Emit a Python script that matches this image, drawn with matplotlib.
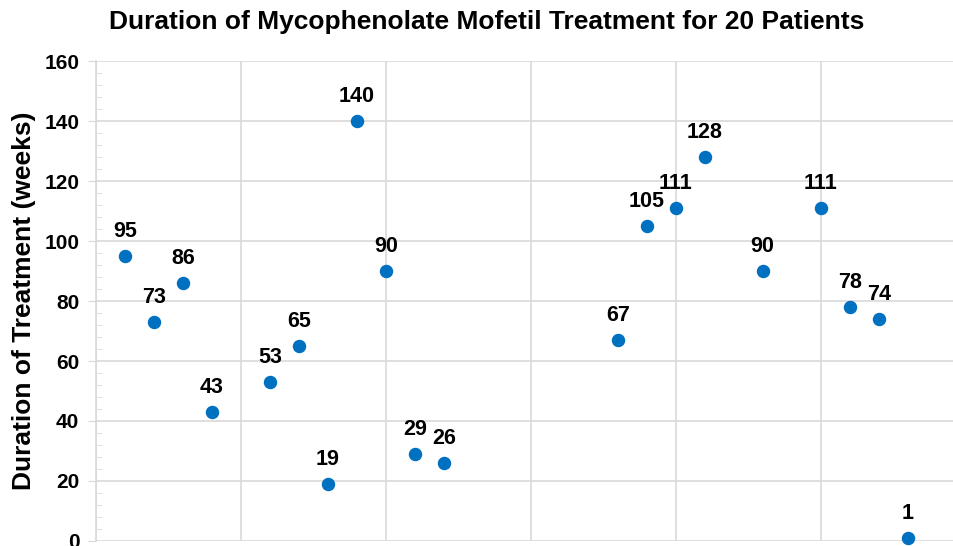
import matplotlib
matplotlib.use("Agg")
import matplotlib.pyplot as plt
from matplotlib.ticker import MultipleLocator

plt.rcParams['font.family'] = ['Liberation Sans', 'DejaVu Sans']

# patient position on the x axis and weeks of treatment
patient = [1, 2, 3, 4, 6, 7, 8, 9, 10, 11, 12, 18, 19, 20, 21, 23, 25, 26, 27, 28]
weeks = [95, 73, 86, 43, 53, 65, 19, 140, 90, 29, 26, 67, 105, 111, 128, 90, 111, 78, 74, 1]

title = "Duration of Mycophenolate Mofetil Treatment for 20 Patients"
ylabel = "Duration of Treatment (weeks)"

fig = plt.figure(figsize=(9.54, 5.46), dpi=100)
ax = fig.add_axes([0.1006, 0.0092, 0.8994, 0.879])

grid_col = '#d9d9d9'
ax.scatter(patient, weeks, s=75, color='#0070C0', zorder=3, clip_on=False)
for x, y in zip(patient, weeks):
    ax.annotate(str(y), (x, y), xytext=(0, 10), textcoords='offset points',
                ha='center', va='bottom', fontsize=15.5, fontweight='bold')

ax.set_xlim(0, 29.6)
ax.set_ylim(0, 160)
ax.xaxis.set_major_locator(MultipleLocator(5))
ax.yaxis.set_major_locator(MultipleLocator(20))
ax.yaxis.set_minor_locator(MultipleLocator(4))
ax.grid(True, which='major', color=grid_col, lw=1.2)
ax.set_axisbelow(True)

for s in ['top', 'right', 'bottom']:
    ax.spines[s].set_visible(False)
ax.spines['left'].set_color(grid_col)
ax.spines['left'].set_linewidth(1.2)

ax.tick_params(axis='x', bottom=False, labelbottom=False)
ax.tick_params(axis='y', which='major', length=6, color=grid_col, labelsize=15, pad=6)
ax.tick_params(axis='y', which='minor', length=4, color=grid_col, direction='in')
for lab in ax.get_yticklabels():
    lab.set_fontweight('bold')

ax.set_ylabel(ylabel, fontsize=19, fontweight='bold', labelpad=6)
fig.text(0.51, 0.96, title, ha='center', va='center', fontsize=19, fontweight='bold')

fig.savefig('out.png', dpi=100)
